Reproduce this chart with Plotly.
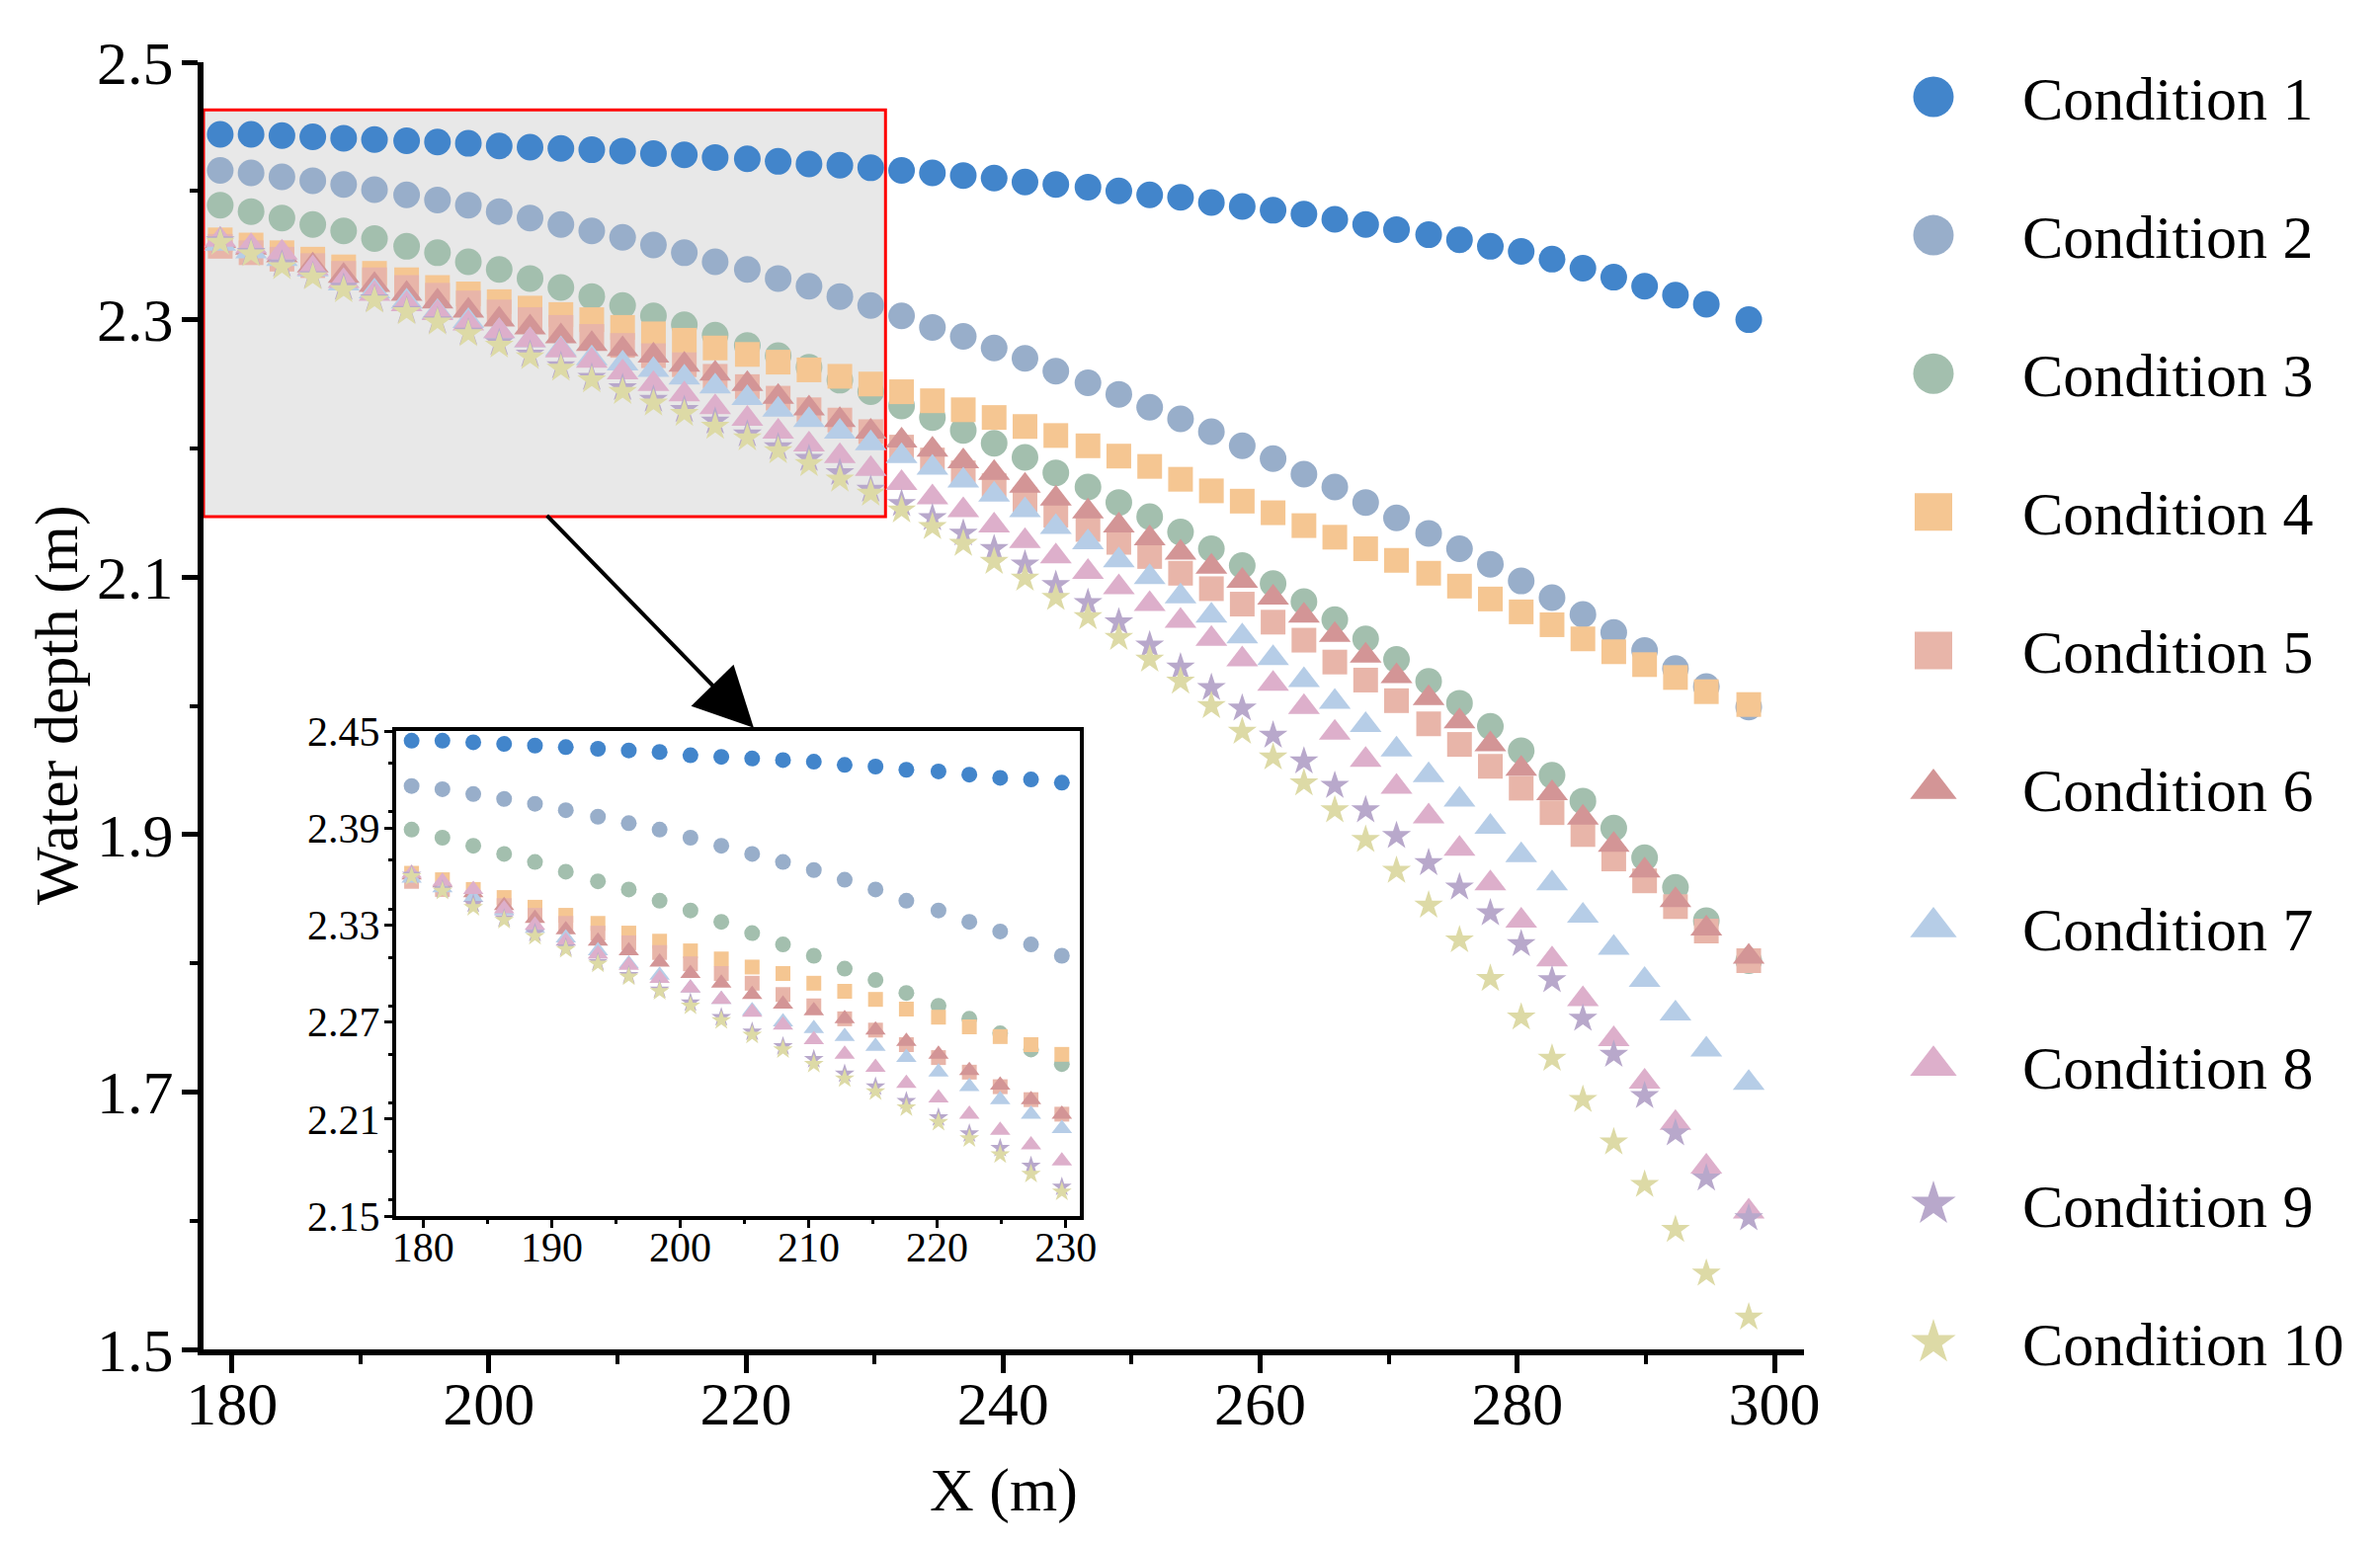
import plotly.graph_objects as go

W, H = 2409, 1563
OFF = 8  # default page margin around the plot div
FW, FH = W - 2 * OFF, H - 2 * OFF

# X positions (m), shared by all conditions
x_m = [179.1, 181.5, 183.9, 186.3, 188.7, 191.1, 193.6, 196.0, 198.4, 200.8,
       203.2, 205.6, 208.0, 210.4, 212.8, 215.2, 217.6, 220.1, 222.5, 224.9,
       227.3, 229.7, 232.1, 234.5, 236.9, 239.3, 241.7, 244.1, 246.6, 249.0,
       251.4, 253.8, 256.2, 258.6, 261.0, 263.4, 265.8, 268.2, 270.6, 273.1,
       275.5, 277.9, 280.3, 282.7, 285.1, 287.5, 289.9, 292.3, 294.7, 298.0]

# water depth (m) for each condition
depth_c1 = [2.444, 2.444, 2.443, 2.442, 2.441, 2.440, 2.439, 2.438, 2.437, 2.435,
            2.434, 2.433, 2.432, 2.431, 2.429, 2.428, 2.426, 2.425, 2.423, 2.421,
            2.420, 2.418, 2.416, 2.414, 2.412, 2.410, 2.407, 2.405, 2.403, 2.400,
            2.397, 2.395, 2.391, 2.388, 2.385, 2.382, 2.378, 2.374, 2.370, 2.366,
            2.362, 2.357, 2.353, 2.347, 2.340, 2.333, 2.326, 2.319, 2.312, 2.300]
depth_c2 = [2.416, 2.414, 2.411, 2.408, 2.405, 2.401, 2.397, 2.393, 2.389, 2.384,
            2.379, 2.374, 2.369, 2.364, 2.358, 2.352, 2.345, 2.339, 2.332, 2.326,
            2.318, 2.311, 2.303, 2.294, 2.287, 2.278, 2.270, 2.260, 2.251, 2.242,
            2.232, 2.223, 2.213, 2.202, 2.192, 2.180, 2.170, 2.158, 2.146, 2.134,
            2.122, 2.110, 2.097, 2.084, 2.071, 2.057, 2.043, 2.029, 2.015, 1.999]
depth_c3 = [2.389, 2.384, 2.379, 2.374, 2.369, 2.363, 2.357, 2.352, 2.345, 2.339,
            2.332, 2.325, 2.318, 2.311, 2.303, 2.296, 2.288, 2.280, 2.272, 2.263,
            2.253, 2.244, 2.233, 2.224, 2.214, 2.204, 2.193, 2.181, 2.170, 2.158,
            2.147, 2.135, 2.122, 2.109, 2.095, 2.081, 2.067, 2.052, 2.036, 2.019,
            2.002, 1.984, 1.965, 1.946, 1.926, 1.905, 1.882, 1.859, 1.833, 1.802]
depth_c4 = [2.362, 2.358, 2.352, 2.347, 2.341, 2.336, 2.331, 2.325, 2.320, 2.314,
            2.309, 2.304, 2.300, 2.294, 2.289, 2.284, 2.278, 2.273, 2.267, 2.261,
            2.256, 2.250, 2.244, 2.237, 2.230, 2.224, 2.217, 2.210, 2.202, 2.194,
            2.186, 2.176, 2.167, 2.159, 2.150, 2.140, 2.131, 2.122, 2.113, 2.103,
            2.093, 2.083, 2.073, 2.063, 2.052, 2.042, 2.032, 2.022, 2.011, 2.001]
depth_c5 = [2.357, 2.352, 2.347, 2.342, 2.336, 2.331, 2.325, 2.319, 2.313, 2.306,
            2.300, 2.294, 2.287, 2.280, 2.272, 2.265, 2.256, 2.248, 2.239, 2.230,
            2.222, 2.213, 2.201, 2.191, 2.181, 2.171, 2.160, 2.148, 2.137, 2.127,
            2.116, 2.103, 2.091, 2.079, 2.065, 2.051, 2.034, 2.020, 2.004, 1.986,
            1.970, 1.953, 1.936, 1.917, 1.900, 1.881, 1.864, 1.844, 1.825, 1.802]
depth_c6 = [2.361, 2.356, 2.350, 2.342, 2.334, 2.327, 2.320, 2.314, 2.307, 2.300,
            2.294, 2.287, 2.281, 2.277, 2.272, 2.265, 2.258, 2.250, 2.240, 2.231,
            2.222, 2.213, 2.206, 2.199, 2.190, 2.181, 2.171, 2.161, 2.151, 2.140,
            2.130, 2.119, 2.108, 2.097, 2.084, 2.070, 2.055, 2.039, 2.023, 2.006,
            1.988, 1.970, 1.951, 1.932, 1.913, 1.892, 1.872, 1.849, 1.827, 1.805]
depth_c7 = [2.359, 2.353, 2.347, 2.339, 2.328, 2.322, 2.314, 2.306, 2.299, 2.291,
            2.284, 2.277, 2.270, 2.266, 2.261, 2.255, 2.248, 2.239, 2.230, 2.222,
            2.213, 2.204, 2.194, 2.185, 2.175, 2.164, 2.152, 2.139, 2.127, 2.113,
            2.100, 2.085, 2.070, 2.054, 2.037, 2.020, 2.003, 1.985, 1.966, 1.946,
            1.927, 1.906, 1.884, 1.862, 1.837, 1.812, 1.787, 1.761, 1.733, 1.707]
depth_c8 = [2.362, 2.357, 2.352, 2.340, 2.330, 2.320, 2.312, 2.305, 2.297, 2.291,
            2.284, 2.276, 2.268, 2.259, 2.250, 2.242, 2.232, 2.223, 2.213, 2.203,
            2.194, 2.184, 2.173, 2.162, 2.152, 2.140, 2.128, 2.116, 2.104, 2.092,
            2.079, 2.066, 2.052, 2.036, 2.017, 1.999, 1.979, 1.958, 1.937, 1.914,
            1.889, 1.862, 1.833, 1.803, 1.772, 1.741, 1.708, 1.676, 1.642, 1.607]
depth_c9 = [2.361, 2.352, 2.343, 2.334, 2.325, 2.316, 2.307, 2.299, 2.290, 2.282,
            2.273, 2.264, 2.255, 2.247, 2.238, 2.230, 2.221, 2.211, 2.201, 2.192,
            2.181, 2.168, 2.157, 2.146, 2.134, 2.122, 2.110, 2.094, 2.080, 2.065,
            2.047, 2.030, 2.014, 1.998, 1.977, 1.957, 1.938, 1.919, 1.899, 1.878,
            1.859, 1.839, 1.815, 1.787, 1.757, 1.729, 1.697, 1.668, 1.633, 1.602]
depth_c10 = [2.360, 2.351, 2.341, 2.333, 2.323, 2.315, 2.306, 2.298, 2.289, 2.280,
             2.271, 2.262, 2.253, 2.244, 2.235, 2.227, 2.217, 2.208, 2.198, 2.188,
             2.176, 2.165, 2.152, 2.139, 2.126, 2.112, 2.099, 2.084, 2.069, 2.053,
             2.036, 2.019, 2.000, 1.980, 1.960, 1.940, 1.919, 1.896, 1.872, 1.845,
             1.818, 1.788, 1.758, 1.726, 1.694, 1.661, 1.628, 1.593, 1.559, 1.525]

conditions = ["Condition %d" % i for i in range(1, 11)]
series = [depth_c1, depth_c2, depth_c3, depth_c4, depth_c5,
          depth_c6, depth_c7, depth_c8, depth_c9, depth_c10]
colors = ["#4285CB", "#98AECA", "#A3BFAE", "#F5C692", "#E8B5A9",
          "#D39596", "#B6CDE7", "#DDAFCB", "#B8A8CB", "#DDDAA6"]
symbols = ["circle", "circle", "circle", "square", "square",
           "triangle-up", "triangle-up", "triangle-up", "star", "star"]

main_size = {"circle": 27, "square": 25, "triangle-up": 28, "star": 22}
inset_size = {"circle": 16, "square": 15, "triangle-up": 18, "star": 15}
legend_size = {"circle": 41, "square": 38, "triangle-up": 41, "star": 34}

FONT = "Liberation Serif"

# screen pixel -> paper fraction (figure sits inside the page margin)
def fx(p):
    return (p - OFF) / FW

def fy(p):
    return 1 - (p - OFF) / FH

fig = go.Figure()

for name, ys, col, sym in zip(conditions, series, colors, symbols):
    fig.add_trace(go.Scatter(x=x_m, y=ys, mode="markers", name=name, showlegend=False,
                             marker=dict(symbol=sym, size=main_size[sym], color=col, line=dict(width=0)),
                             xaxis="x", yaxis="y"))

for name, ys, col, sym in zip(conditions, series, colors, symbols):
    fig.add_trace(go.Scatter(x=x_m, y=ys, mode="markers", name=name, showlegend=False,
                             marker=dict(symbol=sym, size=inset_size[sym], color=col, line=dict(width=0)),
                             xaxis="x2", yaxis="y2"))

# hand-made legend (plotly caps legend symbol size)
leg_x = 1957
leg_y0, leg_dy = 98, 140.1
for k, (name, col, sym) in enumerate(zip(conditions, colors, symbols)):
    ry = leg_y0 + k * leg_dy
    fig.add_trace(go.Scatter(x=[leg_x], y=[ry], mode="markers", showlegend=False,
                             marker=dict(symbol=sym, size=legend_size[sym], color=col, line=dict(width=0)),
                             xaxis="x3", yaxis="y3", hoverinfo="skip"))
    fig.add_annotation(text=name, x=fx(2045), y=fy(ry + 2), xref="paper", yref="paper",
                       xanchor="left", yanchor="middle", showarrow=False,
                       font=dict(family=FONT, size=62, color="black"))

tick_font = dict(family=FONT, size=62, color="black")
inset_font = dict(family=FONT, size=42, color="black")

fig.update_layout(
    width=FW, height=FH,
    margin=dict(l=0, r=0, t=0, b=0, pad=0),
    template="none",
    paper_bgcolor="white",
    plot_bgcolor="rgba(0,0,0,0)",
    showlegend=False,
    xaxis=dict(domain=[fx(206), fx(1826)], range=[177.8, 302.3], anchor="y",
               showline=True, linecolor="black", linewidth=6, mirror=False,
               ticks="outside", ticklen=18, tickwidth=5, tickcolor="black",
               tick0=180, dtick=20, tickfont=tick_font, ticklabelstandoff=-22,
               minor=dict(dtick=10, ticks="outside", ticklen=9, tickwidth=4, tickcolor="black"),
               showgrid=False, zeroline=False, automargin=False),
    yaxis=dict(domain=[fy(1366), fy(63)], range=[1.5, 2.5], anchor="x",
               showline=True, linecolor="black", linewidth=6, mirror=False,
               ticks="outside", ticklen=16, tickwidth=5, tickcolor="black",
               tick0=1.5, dtick=0.2, tickformat=".1f", tickfont=tick_font, ticklabelstandoff=-4,
               minor=dict(dtick=0.1, ticks="outside", ticklen=8, tickwidth=4, tickcolor="black"),
               showgrid=False, zeroline=False, automargin=False),
    xaxis2=dict(domain=[fx(401), fx(1093)], range=[177.9, 231.1], anchor="y2",
                showline=True, linecolor="black", linewidth=4, mirror=True,
                ticks="outside", ticklen=8, tickwidth=3, tickcolor="black",
                tick0=180, dtick=10, tickfont=inset_font, ticklabelstandoff=-16,
                minor=dict(dtick=5, ticks="outside", ticklen=4, tickwidth=3, tickcolor="black"),
                showgrid=False, zeroline=False, automargin=False),
    yaxis2=dict(domain=[fy(1231), fy(740)], range=[2.15, 2.45], anchor="x2",
                showline=True, linecolor="black", linewidth=4, mirror=True,
                ticks="outside", ticklen=8, tickwidth=3, tickcolor="black",
                tick0=2.15, dtick=0.06, tickformat=".2f", tickfont=inset_font, ticklabelstandoff=-4,
                minor=dict(dtick=0.03, ticks="outside", ticklen=4, tickwidth=3, tickcolor="black"),
                showgrid=False, zeroline=False, automargin=False),
    xaxis3=dict(domain=[0, 1], range=[OFF, W - OFF], anchor="y3", visible=False, fixedrange=True),
    yaxis3=dict(domain=[0, 1], range=[H - OFF, OFF], anchor="x3", visible=False, fixedrange=True),
)

# zoom window on the main plot
fig.add_shape(type="rect", xref="x", yref="y", x0=177.8, x1=230.85, y0=2.147, y1=2.463,
              fillcolor="#E8E8E8", line=dict(color="#FF0000", width=3), layer="below")

# arrow from zoom window to inset
fig.add_annotation(x=220.6, y=1.983, ax=204.4, ay=2.149, xref="x", yref="y", axref="x", ayref="y",
                   text="", showarrow=True, arrowhead=2, arrowsize=3, arrowwidth=4,
                   arrowcolor="black", standoff=0)

# axis titles
fig.add_annotation(text="X (m)", x=fx(1016), y=fy(1508), xref="paper", yref="paper",
                   xanchor="center", yanchor="middle", showarrow=False,
                   font=dict(family=FONT, size=62, color="black"))
fig.add_annotation(text="Water depth (m)", x=fx(58), y=fy(714), xref="paper", yref="paper",
                   xanchor="center", yanchor="middle", textangle=-90, showarrow=False,
                   font=dict(family=FONT, size=62, color="black"))

fig.write_html("out.html")
